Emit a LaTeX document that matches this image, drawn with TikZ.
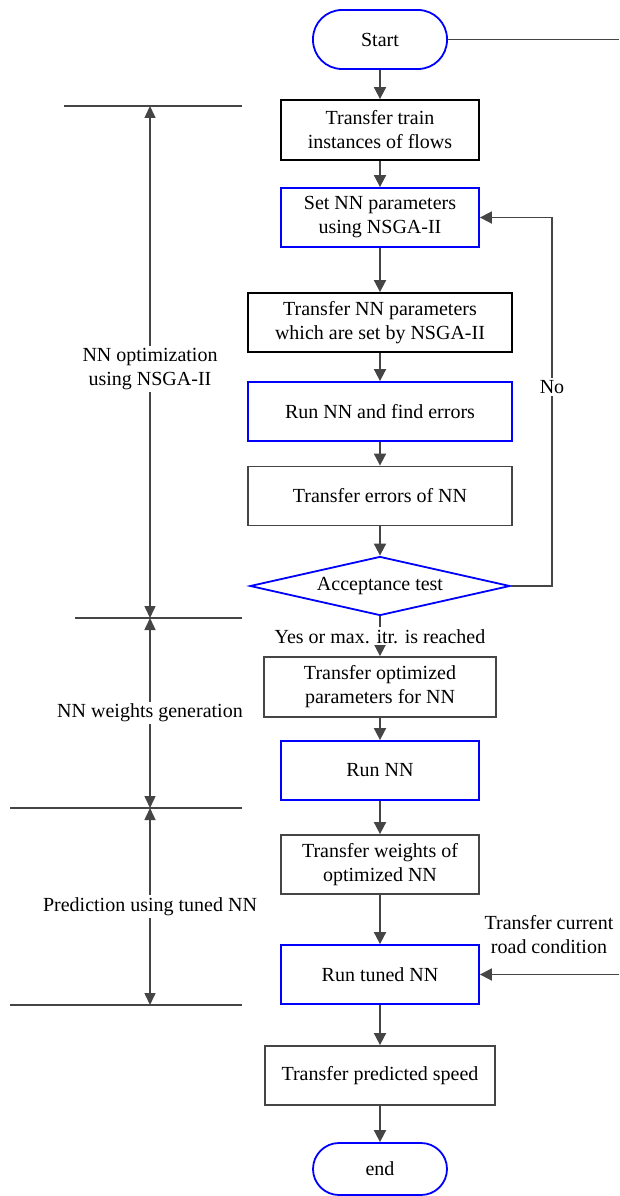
\documentclass[tikz,border=0pt]{standalone}
\usepackage{fontspec}
\usepackage{tikz}
\usetikzlibrary{arrows.meta,shapes.geometric}
\definecolor{inkc}{HTML}{454545}
\definecolor{bluec}{HTML}{0000FF}
\tikzset{
  every node/.style={font=\fontspec{Liberation Serif}\fontsize{20}{24}\selectfont,text=black},
  ar/.style={-{Triangle[length=12pt,width=12pt]},line width=1.8pt,inkc},
  dimar/.style={{Triangle[length=12pt,width=11pt]}-{Triangle[length=12pt,width=11pt]},line width=1.5pt,inkc},
  ln/.style={line width=1.7pt,inkc},
  box/.style={rectangle,draw=inkc,line width=1.8pt,fill=white,align=center,minimum height=59pt,inner sep=2pt},
  blkbox/.style={box,draw=black},
  blubox/.style={box,draw=bluec},
  term/.style={blubox,minimum width=134pt},
  dec/.style={diamond,draw=bluec,line width=1.8pt,aspect=4.4,inner sep=0pt,minimum width=260pt,minimum height=59pt},
  lbl/.style={fill=white,inner sep=2pt,align=center,text=black}
}
\begin{document}
\begin{tikzpicture}[x=1pt,y=-1pt]
\useasboundingbox (0,0) rectangle (619,1196);
% main flow
\node[term,rounded corners=29pt] (start) at (380,39.5) {Start};
\node[blkbox,minimum width=198pt,minimum height=60pt] (train) at (380,130) {Transfer train\\instances of flows};
\node[blubox,minimum width=198pt] (setnn) at (380,217.5) {Set NN parameters\\using NSGA-II};
\node[blkbox,minimum width=264pt] (transnn) at (380,322.5) {Transfer NN parameters\\which are set by NSGA-II};
\node[blubox,minimum width=264pt] (runerr) at (380,411.5) {Run NN and find errors};
\node[box,minimum width=264pt] (transerr) at (380,496) {Transfer errors of NN};
\node[dec] (acc) at (380,586) {Acceptance test};
\node[box,minimum width=232pt,minimum height=60pt] (transopt) at (380,687) {Transfer optimized\\parameters for NN};
\node[blubox,minimum width=198pt] (runnn) at (380,770.5) {Run NN};
\node[box,minimum width=198pt] (transw) at (380,864.5) {Transfer weights of\\optimized NN};
\node[blubox,minimum width=198pt] (runtuned) at (380,974.5) {Run tuned NN};
\node[box,minimum width=230pt] (transpred) at (380,1075.5) {Transfer predicted speed};
\node[term,rounded corners=26pt,minimum height=52pt] (finish) at (380,1169) {end};

\draw[ar] (start) -- (train);
\draw[ar] (train) -- (setnn);
\draw[ar] (setnn) -- (transnn);
\draw[ar] (transnn) -- (runerr);
\draw[ar] (runerr) -- (transerr);
\draw[ar] (transerr) -- (acc);
\draw[ar] (acc) -- node[lbl]{Yes or max. itr. is reached} (transopt);
\draw[ar] (transopt) -- (runnn);
\draw[ar] (runnn) -- (transw);
\draw[ar] (transw) -- (runtuned);
\draw[ar] (runtuned) -- (transpred);
\draw[ar] (transpred) -- (finish);

% loop back when the test fails
\coordinate (nlow) at (552,586);
\coordinate (nhigh) at (552,217.5);
\draw[ar] (acc.east) -- (nlow) -- node[lbl,pos=0.54]{No} (nhigh) -- (setnn.east);

% lines leaving / entering at the right edge
\coordinate (outr) at (619,39.5);
\draw[ln] (start.east) -- (outr);
\coordinate (inr) at (619,974.5);
\draw[ar] (inr) -- (runtuned.east);
\node[align=center] (road) at (549,935) {Transfer current\\road condition};

% stage markers on the left
\coordinate (m1) at (150,106);
\coordinate (m2) at (150,618);
\coordinate (m3) at (150,808);
\coordinate (m4) at (150,1005);
\draw[ln] (64,106) -- (242,106);
\draw[ln] (75,618) -- (242,618);
\draw[ln] (10,808) -- (242,808);
\draw[ln] (10,1005) -- (242,1005);
\draw[dimar] (m1) -- node[lbl,yshift=-7pt]{NN optimization\\using NSGA-II} (m2);
\draw[dimar] (m2) -- node[lbl]{NN weights generation} (m3);
\draw[dimar] (m3) -- node[lbl]{Prediction using tuned NN} (m4);
\end{tikzpicture}
\end{document}
